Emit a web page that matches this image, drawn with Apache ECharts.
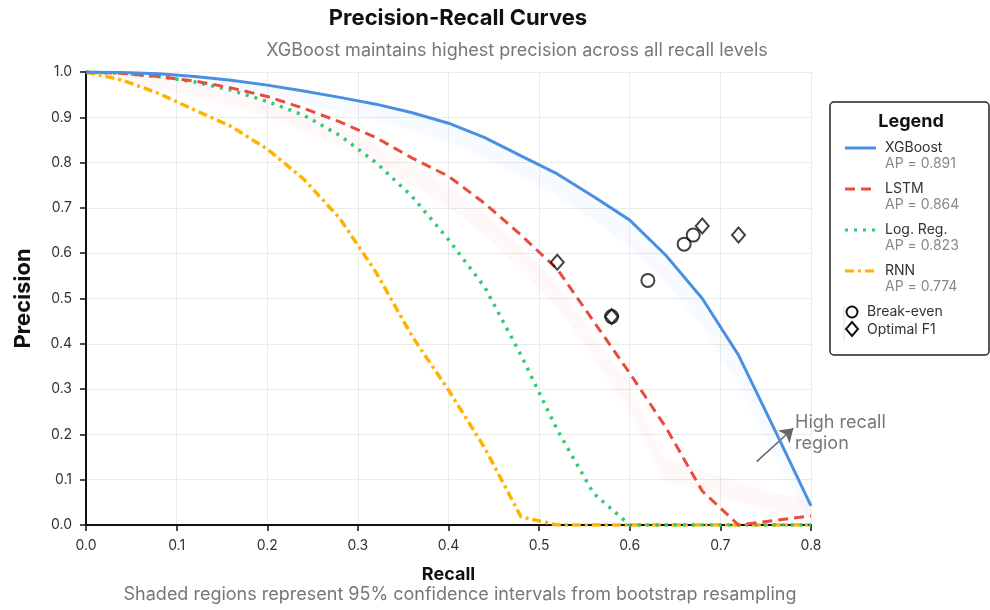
<!DOCTYPE html>
<html><head><meta charset="utf-8">
<script src="https://cdn.jsdelivr.net/npm/echarts@6/dist/echarts.min.js"></script>
<style>html,body{margin:0;padding:0;background:#fff}#c{width:990px;height:610px}</style>
</head><body><div id="c"></div><script>
// ---- data ----
const recall = [0,0.04,0.08,0.12,0.16,0.20,0.24,0.28,0.32,0.36,0.40,0.44,0.48,0.52,0.56,0.60,0.64,0.68,0.72,0.76,0.80];
const xgboost = [1.0,0.999,0.996,0.99,0.982,0.971,0.958,0.944,0.929,0.91,0.887,0.855,0.815,0.775,0.725,0.673,0.595,0.50,0.375,0.21,0.042];
const lstm = [1.0,0.997,0.99,0.98,0.965,0.946,0.92,0.89,0.855,0.81,0.77,0.71,0.64,0.565,0.45,0.335,0.215,0.075,0.0,0.01,0.02];
const logreg = [1.0,0.997,0.99,0.978,0.96,0.935,0.905,0.86,0.80,0.725,0.63,0.525,0.375,0.21,0.07,0,0,0,0,0,0];
const rnn = [1.0,0.982,0.953,0.916,0.88,0.83,0.764,0.677,0.558,0.416,0.298,0.17,0.018,0,0,0,0,0,0,0,0];
const xgbLower = [0.995,0.99,0.982,0.972,0.96,0.945,0.93,0.912,0.893,0.87,0.845,0.81,0.768,0.725,0.672,0.615,0.535,0.44,0.31,0.15,0.0];
const xgbUpper = [1.0,1.0,0.996,0.99,0.982,0.97,0.957,0.942,0.926,0.906,0.882,0.85,0.81,0.768,0.718,0.665,0.585,0.49,0.365,0.2,0.035];
const lstmLower = [0.99,0.975,0.96,0.945,0.925,0.90,0.87,0.835,0.795,0.75,0.70,0.64,0.565,0.48,0.37,0.25,0.095,0.075,0.05,0.03,0.02];
const lstmUpper = [1.0,0.995,0.985,0.973,0.957,0.937,0.91,0.878,0.84,0.795,0.75,0.69,0.615,0.535,0.42,0.31,0.145,0.12,0.095,0.07,0.055];
const breakEven = [[0.58,0.46],[0.62,0.54],[0.66,0.62],[0.67,0.64]];
const optimalF1 = [[0.52,0.58],[0.58,0.46],[0.68,0.66],[0.72,0.64]];
const modelNames = ['XGBoost','LSTM','Log. Reg.','RNN'];
const apValues = ['0.891','0.864','0.823','0.774'];
const xTickLabels = ['0.0','0.1','0.2','0.3','0.4','0.5','0.6','0.7','0.8'];
const yTickLabels = ['0.0','0.1','0.2','0.3','0.4','0.5','0.6','0.7','0.8','0.9','1.0'];
const arrowFrom = [0.740, 0.140];
const arrowTo = [0.7805, 0.2135];

// ---- styles ----
const FONT = 'Inter, "Noto Sans", sans-serif';
const colors = ['#4A90E2','#E74C3C','#2ECC71','#FFB300'];
const dashes = [null,[10,6],[3,6],[9,4,3,4]];
const widths = [3,3,3.5,3.5];
const curves = [xgboost,lstm,logreg,rnn];

function band(lower, upper, color){
  return {type:'custom', silent:true, z:1, clip:true,
    data: recall.map((r,i)=>[r, lower[i], upper[i]]),
    encode:{x:0, y:[1,2]},
    renderItem:(params, api)=>{
      if(params.dataIndex!==0) return null;
      const pts=[];
      for(let i=0;i<recall.length;i++) pts.push(api.coord([recall[i], upper[i]]));
      for(let i=recall.length-1;i>=0;i--) pts.push(api.coord([recall[i], lower[i]]));
      return {type:'polygon', shape:{points:pts}, style:{fill:color}};
    }};
}

const series = [
  band(xgbLower, xgbUpper, 'rgba(74,144,226,0.045)'),
  band(lstmLower, lstmUpper, 'rgba(231,76,60,0.035)')
];
curves.forEach((c,k)=>{
  const s = {type:'line', name:modelNames[k], data: recall.map((r,i)=>[r,c[i]]),
    symbol:'none', showSymbol:false, z:5-k*0.1,
    lineStyle:{color:colors[k], width:widths[k], type: dashes[k]||'solid', cap:'butt'}};
  if(k===0){
    s.markLine = {silent:true, symbol:['none','arrow'], symbolSize:13,
      label:{show:false}, lineStyle:{color:'#666', width:1.5, type:'solid'},
      data:[[{coord:arrowFrom},{coord:arrowTo}]]};
  }
  series.push(s);
});
series.push({type:'scatter', name:'Break-even', data:breakEven, symbol:'circle', symbolSize:13, z:10,
  itemStyle:{color:'rgba(255,255,255,0)', borderColor:'#111', borderWidth:2}});
series.push({type:'scatter', name:'Optimal F1', data:optimalF1, symbol:'diamond', symbolSize:[13,15], z:10,
  itemStyle:{color:'rgba(255,255,255,0)', borderColor:'#111', borderWidth:2}});

// legend graphic
const g = [];
g.push({type:'rect', shape:{x:830,y:102,width:159,height:253,r:4}, style:{fill:'#fff', stroke:'#222', lineWidth:1.5}, z:100});
g.push({type:'text', x:911, y:122, style:{text:'Legend', font:'bold 18px '+FONT, fill:'#111', align:'center', verticalAlign:'middle'}, z:101});
modelNames.forEach((n,k)=>{
  const y0 = 148 + k*41;
  g.push({type:'line', shape:{x1:845,y1:y0,x2:876,y2:y0}, style:{stroke:colors[k], lineWidth:3, lineDash:dashes[k]||null}, z:101});
  g.push({type:'text', x:885, y:y0, style:{text:n, font:'14px '+FONT, fill:'#333', verticalAlign:'middle'}, z:101});
  g.push({type:'text', x:885, y:y0+16, style:{text:'AP = '+apValues[k], font:'14px '+FONT, fill:'#888', verticalAlign:'middle'}, z:101});
});
g.push({type:'line', shape:{x1:844,y1:306,x2:844,y2:341}, style:{stroke:'#ddd', lineWidth:1}, z:101});
g.push({type:'circle', shape:{cx:852,cy:312,r:5.5}, style:{fill:'none', stroke:'#111', lineWidth:2}, z:101});
g.push({type:'text', x:867, y:312, style:{text:'Break-even', font:'14px '+FONT, fill:'#333', verticalAlign:'middle'}, z:101});
g.push({type:'polygon', shape:{points:[[852,322],[858,329],[852,336],[846,329]]}, style:{fill:'none', stroke:'#111', lineWidth:2}, z:101});
g.push({type:'text', x:867, y:330, style:{text:'Optimal F1', font:'14px '+FONT, fill:'#333', verticalAlign:'middle'}, z:101});
g.push({type:'text', x:795, y:412, style:{text:'High recall\nregion', font:'18px '+FONT, fill:'#777', lineHeight:21}, z:101});

const chart = echarts.init(document.getElementById('c'));
chart.setOption({
  animation:false,
  backgroundColor:'#fff',
  textStyle:{fontFamily:FONT},
  title:[
    {text:'Precision-Recall Curves', left:458, top:7, padding:0, textAlign:'center', textStyle:{fontSize:22, fontWeight:'bold', color:'#111', fontFamily:FONT}},
    {text:'XGBoost maintains highest precision across all recall levels', left:517, top:42, padding:0, textAlign:'center', textStyle:{fontSize:18, fontWeight:'normal', color:'#777', fontFamily:FONT}},
    {text:'Shaded regions represent 95% confidence intervals from bootstrap resampling', left:460, top:586, padding:0, textAlign:'center', textStyle:{fontSize:18, fontWeight:'normal', color:'#777', fontFamily:FONT}}
  ],
  grid:{left:86, right:179, top:72, bottom:85, containLabel:false},
  xAxis:{type:'value', min:0, max:0.8, interval:0.1,
    name:'Recall', nameLocation:'middle', nameGap:41,
    nameTextStyle:{fontSize:18, fontWeight:'bold', color:'#111', fontFamily:FONT},
    axisLine:{show:true, onZero:false, lineStyle:{color:'#111', width:2}},
    axisTick:{show:true, length:6, lineStyle:{color:'#111', width:1.5}},
    axisLabel:{color:'#333', fontSize:14, margin:14, fontFamily:FONT, formatter:(v)=>xTickLabels[Math.round(v*10)]},
    splitLine:{show:true, lineStyle:{color:'#ebebeb', width:1}}},
  yAxis:{type:'value', min:0, max:1, interval:0.1,
    name:'Precision', nameLocation:'middle', nameGap:52, nameRotate:90,
    nameTextStyle:{fontSize:22, fontWeight:'bold', color:'#111', fontFamily:FONT},
    axisLine:{show:true, lineStyle:{color:'#111', width:2}},
    axisTick:{show:true, length:6, lineStyle:{color:'#111', width:1.5}},
    axisLabel:{color:'#333', fontSize:14, margin:14, fontFamily:FONT, formatter:(v)=>yTickLabels[Math.round(v*10)]},
    splitLine:{show:true, lineStyle:{color:'#ebebeb', width:1}}},
  series: series,
  graphic: g
});
</script></body></html>
